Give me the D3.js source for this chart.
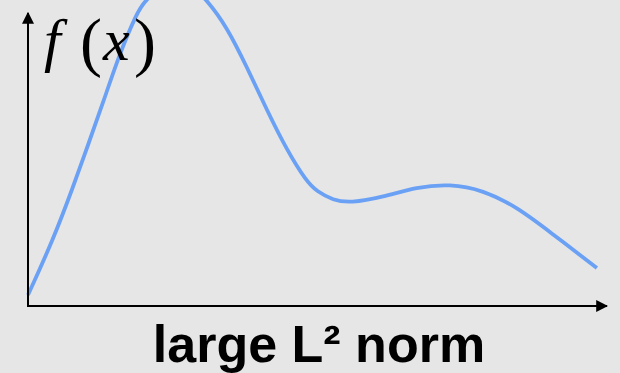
<!DOCTYPE html>
<html>
<head>
<meta charset="utf-8">
<script src="https://cdn.jsdelivr.net/npm/d3@7"></script>
<style>
  html, body { margin: 0; padding: 0; background: #e6e6e6; }
  svg { display: block; }
</style>
</head>
<body>
<svg width="620" height="373"></svg>
<script>
// curve samples (x, f(x)) in arbitrary units 0..100
const xs = [0, 4.4, 7.9, 10.4, 13.2, 16.1, 19.1, 20.5, 24.0, 27.0, 29.0, 31.4, 34.9, 38.4, 41.9, 45.4, 48.9, 50.7, 53.5, 56.5, 62.3, 68.2, 74.0, 79.8, 85.8, 91.6, 99.8];
const ys = [3.8, 22.8, 41.0, 54.8, 70.3, 87.2, 101, 105.5, 110.5, 111.5, 109.8, 105.5, 96.2, 82.4, 67.6, 53.8, 42.8, 39.5, 36.5, 35.5, 37.6, 41.0, 42.1, 40.0, 34.1, 25.5, 13.1];
const yLabel = ['f', '(', 'x', ')'];
const xLabel = 'large L² norm';

const svg = d3.select('svg');
const W = 620, H = 373;

const X_SCALE = d3.scaleLinear().domain([0, 100]).range([28, 598]);
const Y_SCALE = d3.scaleLinear().domain([0, 100]).range([306, 16]);

svg.append('rect').attr('width', W).attr('height', H).attr('fill', '#e6e6e6');

// arrow marker
svg.append('defs').append('marker')
  .attr('id', 'arrow')
  .attr('viewBox', '0 0 10 10')
  .attr('refX', 9).attr('refY', 5)
  .attr('markerWidth', 6).attr('markerHeight', 6)
  .attr('markerUnits', 'strokeWidth')
  .attr('orient', 'auto')
  .append('path')
  .attr('d', 'M0,0 L10,5 L0,10 Z')
  .attr('fill', '#000');

const data = xs.map((x, i) => ({ x: x, y: ys[i] }));

// basis spline smooths the small reading errors
const line = d3.line()
  .x(d => X_SCALE(d.x))
  .y(d => Y_SCALE(d.y))
  .curve(d3.curveBasis);

svg.append('path')
  .datum(data)
  .attr('d', line)
  .attr('fill', 'none')
  .attr('stroke', '#6ba1f5')
  .attr('stroke-width', 3.8);

// axes
const x0 = X_SCALE(0), y0 = Y_SCALE(0);
svg.append('line')
  .attr('x1', x0).attr('y1', y0 + 1)
  .attr('x2', x0).attr('y2', 13)
  .attr('stroke', '#000').attr('stroke-width', 2)
  .attr('marker-end', 'url(#arrow)');
svg.append('line')
  .attr('x1', x0 - 1).attr('y1', y0)
  .attr('x2', 607).attr('y2', y0)
  .attr('stroke', '#000').attr('stroke-width', 2)
  .attr('marker-end', 'url(#arrow)');

// y label f(x), letters placed one by one
const labelX = [44, 80, 103, 134];
const isParen = d => d === '(' || d === ')';
svg.selectAll('text.ylab')
  .data(yLabel)
  .join('text')
  .attr('class', 'ylab')
  .attr('x', (d, i) => labelX[i])
  .attr('y', d => isParen(d) ? 64 : 60)
  .style('font-family', '"Liberation Serif", "DejaVu Serif", serif')
  .style('font-style', d => isParen(d) ? 'normal' : 'italic')
  .style('font-size', d => isParen(d) ? '66px' : '60px')
  .style('fill', '#000')
  .text(d => d);

// x label
svg.append('text')
  .attr('x', 319).attr('y', 362)
  .attr('text-anchor', 'middle')
  .style('font-family', '"Liberation Sans", Arial, sans-serif')
  .style('font-weight', 'bold')
  .style('font-size', '52px')
  .style('fill', '#000')
  .text(xLabel);
</script>
</body>
</html>
